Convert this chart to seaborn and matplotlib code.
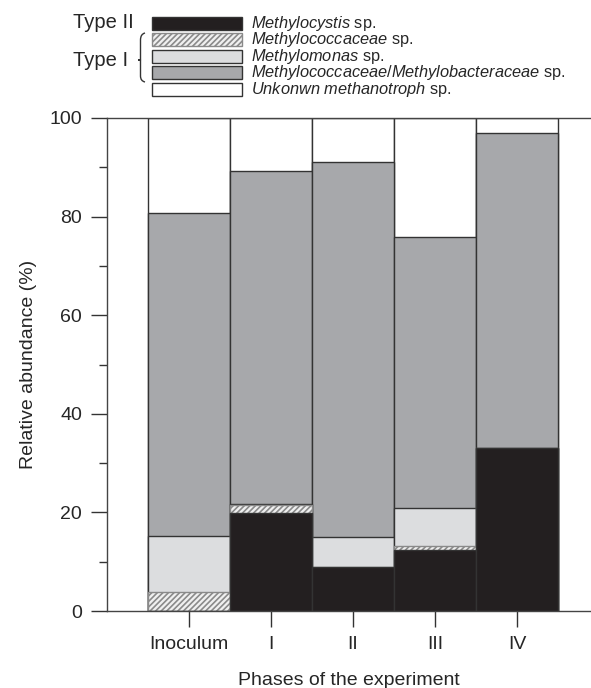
import numpy as np
import pandas as pd
import seaborn as sns
from matplotlib import pyplot as plt
from matplotlib.patches import Rectangle, PathPatch
from matplotlib.path import Path

# data (relative abundance, %)
phases = ['Inoculum', 'I', 'II', 'III', 'IV']
methylocystis = [0.0, 19.9, 9.0, 12.4, 33.0]
methylococcaceae = [3.9, 1.5, 0.0, 0.8, 0.0]
methylomonas = [11.3, 0.4, 6.1, 7.6, 0.0]
mixed_family = [65.5, 67.5, 75.9, 55.1, 63.9]
unknown = [19.3, 10.7, 9.0, 24.1, 3.1]

labels = [r'$\mathit{Methylocystis}$ sp.',
          r'$\mathit{Methylococcaceae}$ sp.',
          r'$\mathit{Methylomonas}$ sp.',
          r'$\mathit{Methylococcaceae/Methylobacteraceae}$ sp.',
          r'$\mathit{Unkonwn\ methanotroph}$ sp.']
colors = ['#231f20', '#f0f0f0', '#dcdddf', '#a7a8ab', '#ffffff']
hatches = [None, '//////', None, None, None]

sns.set_style('ticks')
plt.rcParams['font.family'] = ['Liberation Sans', 'DejaVu Sans']
plt.rcParams['mathtext.fontset'] = 'custom'
plt.rcParams['mathtext.it'] = 'Liberation Sans:italic'
plt.rcParams['mathtext.rm'] = 'Liberation Sans'
plt.rcParams['hatch.linewidth'] = 1.2

series = [methylocystis, methylococcaceae, methylomonas, mixed_family, unknown]
df = pd.DataFrame(dict(zip(range(5), series)), index=phases)
cum = df.cumsum(axis=1)

W, H = 591, 688
fig = plt.figure(figsize=(W / 100, H / 100), dpi=100)
ax = fig.add_axes([107 / W, 1 - 611 / H, 1 - 107 / W, (611 - 118) / H])

# stacked bars: draw cumulative totals from the top layer down
for i in reversed(range(5)):
    edge = '#8a8a8a' if hatches[i] else '#333333'
    sns.barplot(x=phases, y=cum[i].values, color=colors[i], width=1.0,
                edgecolor=edge, linewidth=1.0, hatch=hatches[i],
                saturation=1, ax=ax)

ax.set_xlim(-1.0, 4.9)
ax.set_ylim(0, 100)
ax.set_yticks(np.arange(0, 101, 20))
ax.set_yticks(np.arange(10, 100, 20), minor=True)
ax.tick_params(axis='both', which='major', labelsize=14, length=11.5,
               width=1, color='#333333', direction='out', pad=6.5)
ax.tick_params(axis='y', which='minor', length=5.8, width=1, color='#333333')
for s in ['left', 'top', 'bottom']:
    ax.spines[s].set_color('#444444')
    ax.spines[s].set_linewidth(1.0)
ax.spines['right'].set_visible(False)
ax.set_ylabel('Relative abundance (%)', fontsize=14, labelpad=9)
ax.set_xlabel('Phases of the experiment', fontsize=14, labelpad=14)


# legend drawn by hand to match the compact layout of the reference
def fx(px):
    return px / W


def fy(py):
    return 1 - py / H


for i, (lab, col, h) in enumerate(zip(labels, colors, hatches)):
    yc = 23.5 + 16.4 * i
    edge = '#8a8a8a' if h else '#333333'
    fig.add_artist(Rectangle((fx(152), fy(yc + 6.5)), 90 / W, 13 / H,
                             transform=fig.transFigure, facecolor=col,
                             edgecolor=edge, hatch=h, linewidth=1.0))
    fig.text(fx(251), fy(yc), lab, fontsize=11.8, va='center', ha='left')

fig.text(fx(73), fy(23), 'Type II', fontsize=14.5, va='center', ha='left')
fig.text(fx(73), fy(60), 'Type I', fontsize=14.5, va='center', ha='left')

brace_pts = [(145, 33), (140.5, 34), (140.5, 40), (140.5, 55), (140.5, 57),
             (140.5, 60), (136, 60), (140.5, 60), (140.5, 63),
             (140.5, 65), (140.5, 76), (140.5, 81), (145, 82)]
codes = [Path.MOVETO, Path.CURVE3, Path.CURVE3, Path.LINETO, Path.CURVE3,
         Path.CURVE3, Path.CURVE3, Path.CURVE3, Path.CURVE3,
         Path.LINETO, Path.LINETO, Path.CURVE3, Path.CURVE3]
brace = Path([(fx(x), fy(y)) for x, y in brace_pts], codes)
fig.add_artist(PathPatch(brace, transform=fig.transFigure, fill=False,
                         edgecolor='#333333', linewidth=1.0))

plt.savefig('out.png', dpi=100)
